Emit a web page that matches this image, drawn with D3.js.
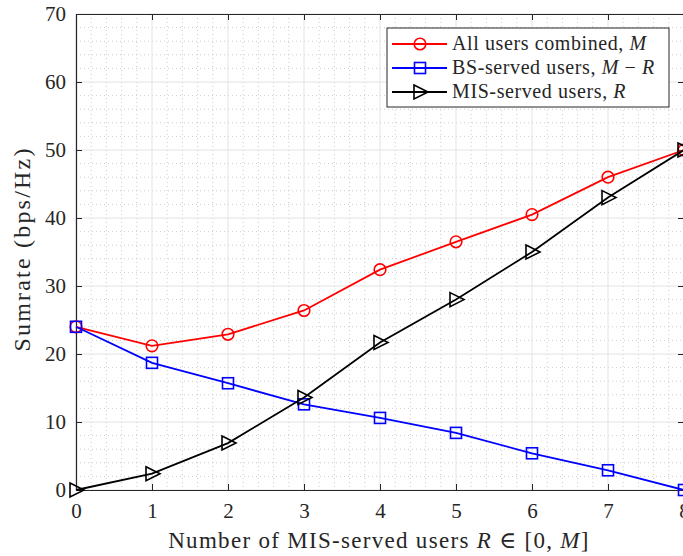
<!DOCTYPE html>
<html>
<head>
<meta charset="utf-8">
<script src="https://cdn.jsdelivr.net/npm/d3@7"></script>
<style>
  html, body { margin: 0; padding: 0; background: #fff; overflow: hidden; }
  svg { display: block; }
  text { font-family: "Liberation Serif", "DejaVu Serif", serif; fill: #262626; }
</style>
</head>
<body>
<svg id="chart" width="683" height="556"></svg>
<script>
// Number of MIS-served users R
const usersR = [0, 1, 2, 3, 4, 5, 6, 7, 8];
// Sum rates (bps/Hz)
const allUsers = [24, 21.2, 22.9, 26.4, 32.4, 36.5, 40.5, 46, 50];
const bsServed = [24, 18.7, 15.7, 12.6, 10.6, 8.4, 5.4, 2.9, 0];
const misServed = [0, 2.4, 6.9, 13.6, 21.7, 28, 35, 43, 50];
const xTicks = [0, 1, 2, 3, 4, 5, 6, 7, 8];
const yTicks = [0, 10, 20, 30, 40, 50, 60, 70];

const svg = d3.select("#chart");
const plotLeft = 76, plotRight = 684, plotTop = 14, plotBottom = 490;

const x = d3.scaleLinear().domain([0, 8]).range([plotLeft, plotRight]);
const y = d3.scaleLinear().domain([0, 70]).range([plotBottom, plotTop]);

const grid = svg.append("g");
// minor grid (dotted)
const xMinor = d3.range(0, 8.001, 0.2).filter(v => Math.abs(v - Math.round(v)) > 1e-6);
const yMinor = d3.range(0, 70.001, 2).filter(v => v % 10 !== 0);
grid.selectAll(".xm").data(xMinor).join("line")
  .attr("x1", d => x(d)).attr("x2", d => x(d)).attr("y1", plotTop).attr("y2", plotBottom)
  .attr("stroke", "#bfbfbf").attr("stroke-width", 0.8).attr("stroke-dasharray", "1,3");
grid.selectAll(".ym").data(yMinor).join("line")
  .attr("x1", plotLeft).attr("x2", plotRight).attr("y1", d => y(d)).attr("y2", d => y(d))
  .attr("stroke", "#bfbfbf").attr("stroke-width", 0.8).attr("stroke-dasharray", "1,3");
// major grid
grid.selectAll(".xg").data(xTicks).join("line")
  .attr("x1", d => x(d)).attr("x2", d => x(d)).attr("y1", plotTop).attr("y2", plotBottom)
  .attr("stroke", "#e3e3e3").attr("stroke-width", 1);
grid.selectAll(".yg").data(yTicks).join("line")
  .attr("x1", plotLeft).attr("x2", plotRight).attr("y1", d => y(d)).attr("y2", d => y(d))
  .attr("stroke", "#e3e3e3").attr("stroke-width", 1);

// axes with inward ticks
const axisColor = "#262626";
const xAxis = svg.append("g").attr("transform", `translate(0,${plotBottom})`)
  .call(d3.axisBottom(x).tickValues(xTicks).tickSizeInner(-6).tickSizeOuter(0).tickPadding(13).tickFormat(d3.format("d")));
const yAxis = svg.append("g").attr("transform", `translate(${plotLeft},0)`)
  .call(d3.axisLeft(y).tickValues(yTicks).tickSizeInner(-6).tickSizeOuter(0).tickPadding(10).tickFormat(d3.format("d")));
const xTop = svg.append("g").attr("transform", `translate(0,${plotTop})`)
  .call(d3.axisTop(x).tickValues(xTicks).tickSizeInner(-6).tickSizeOuter(0).tickFormat(""));
const yRight = svg.append("g").attr("transform", `translate(${plotRight},0)`)
  .call(d3.axisRight(y).tickValues(yTicks).tickSizeInner(-6).tickSizeOuter(0).tickFormat(""));
[xAxis, yAxis, xTop, yRight].forEach(g => {
  g.select(".domain").attr("stroke", axisColor).attr("stroke-width", 1.2);
  g.selectAll(".tick line").attr("stroke", axisColor).attr("stroke-width", 1);
  g.selectAll(".tick text").attr("font-size", 21).attr("fill", axisColor)
    .style("font-family", '"Liberation Serif", serif');
});

// series
const series = [
  { name: "all", values: allUsers, color: "#ff0000", marker: "circle" },
  { name: "bs", values: bsServed, color: "#0000ff", marker: "square" },
  { name: "mis", values: misServed, color: "#000000", marker: "triangle" }
];

const line = d3.line().x((d, i) => x(usersR[i])).y(d => y(d));

function drawMarker(g, kind, color, cx, cy) {
  if (kind === "circle") {
    g.append("circle").attr("cx", cx).attr("cy", cy).attr("r", 5.8)
      .attr("fill", "none").attr("stroke", color).attr("stroke-width", 1.6);
  } else if (kind === "square") {
    g.append("rect").attr("x", cx - 5.5).attr("y", cy - 5.5).attr("width", 11).attr("height", 11)
      .attr("fill", "none").attr("stroke", color).attr("stroke-width", 1.6);
  } else {
    g.append("path").attr("d", `M${cx - 6},${cy - 7}L${cx + 8},${cy}L${cx - 6},${cy + 7}Z`)
      .attr("fill", "none").attr("stroke", color).attr("stroke-width", 1.6);
  }
}

const plot = svg.append("g");
series.forEach(s => {
  plot.append("path").datum(s.values).attr("d", line)
    .attr("fill", "none").attr("stroke", s.color).attr("stroke-width", 1.8);
  s.values.forEach((v, i) => drawMarker(plot, s.marker, s.color, x(usersR[i]), y(v)));
});

// axis titles
const xl = svg.append("text").attr("x", 379).attr("y", 548).attr("text-anchor", "middle")
  .attr("font-size", 23).attr("letter-spacing", 1.3);
xl.append("tspan").text("Number of MIS-served users ");
xl.append("tspan").attr("font-style", "italic").text("R");
xl.append("tspan").text(" ∈ [0, ");
xl.append("tspan").attr("font-style", "italic").text("M");
xl.append("tspan").text("]");

svg.append("text").attr("transform", "translate(30,249) rotate(-90)")
  .attr("text-anchor", "middle").attr("font-size", 24).attr("letter-spacing", 2.2)
  .text("Sumrate (bps/Hz)");

// legend
const legendItems = [
  { label: "All users combined, ", math: "M", color: "#ff0000", marker: "circle" },
  { label: "BS-served users, ", math: "M − R", color: "#0000ff", marker: "square" },
  { label: "MIS-served users, ", math: "R", color: "#000000", marker: "triangle" }
];
const lg = svg.append("g");
lg.append("rect").attr("x", 387).attr("y", 28).attr("width", 282).attr("height", 79)
  .attr("fill", "#fff").attr("stroke", "#262626").attr("stroke-width", 1);
legendItems.forEach((it, i) => {
  const cy = 44 + i * 24;
  lg.append("line").attr("x1", 392).attr("x2", 447).attr("y1", cy).attr("y2", cy)
    .attr("stroke", it.color).attr("stroke-width", 1.8);
  drawMarker(lg, it.marker, it.color, 420, cy);
  const t = lg.append("text").attr("x", 452).attr("y", cy + 6)
    .attr("font-size", 20).attr("letter-spacing", 0.6);
  t.append("tspan").text(it.label);
  if (it.math === "M − R") {
    t.append("tspan").attr("font-style", "italic").text("M");
    t.append("tspan").text(" − ");
    t.append("tspan").attr("font-style", "italic").text("R");
  } else {
    t.append("tspan").attr("font-style", "italic").text(it.math);
  }
});
</script>
</body>
</html>
